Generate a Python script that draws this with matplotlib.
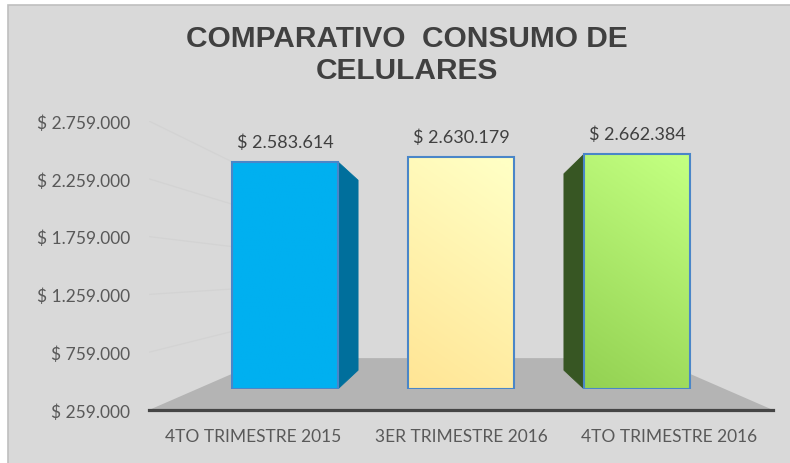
import matplotlib
matplotlib.use("Agg")
import matplotlib.pyplot as plt
import numpy as np
from matplotlib import font_manager
from matplotlib.patches import Polygon, Rectangle
from matplotlib.colors import to_rgb

# ---------------- data ----------------
categories = ["4TO TRIMESTRE 2015", "3ER TRIMESTRE 2016", "4TO TRIMESTRE 2016"]
values = [2583614, 2630179, 2662384]
y_ticks = [259000, 759000, 1259000, 1759000, 2259000, 2759000]
title = "COMPARATIVO  CONSUMO DE\nCELULARES"

# ---------------- styles ----------------
front_top = ["#00b0f0", "#ffffc4", "#c2ff80"]
front_bottom = ["#00b0f0", "#ffe595", "#93d152"]
side_colors = ["#006f9c", None, "#375623"]
edge_color = "#4a86c8"
bg = "#d9d9d9"
floor_color = "#b4b4b4"

names = {f.name for f in font_manager.fontManager.ttflist}
title_family = "Liberation Sans Narrow" if "Liberation Sans Narrow" in names else "Liberation Sans"
plt.rcParams["font.family"] = ["Lato", "DejaVu Sans"]


def money(v):
    return "$ " + f"{v:,}".replace(",", ".")


W, H = 790, 464
fig = plt.figure(figsize=(W / 100, H / 100), dpi=100, facecolor="white")
fig.add_artist(Rectangle((8 / W, -0.05), 1.0, 1.05 - 6 / H, transform=fig.transFigure,
                         facecolor=bg, edgecolor="#bfbfbf", lw=1.2, zorder=-10))

# front plane axes (value axis)
L, R, B, T = 149, 773, 411, 122
ax = fig.add_axes([L / W, 1 - B / H, (R - L) / W, (B - T) / H])
ax.patch.set_alpha(0)
xlim = (-0.5, len(categories) - 0.5)
ylim = (y_ticks[0], y_ticks[-1])
ax.set_xlim(*xlim)
ax.set_ylim(*ylim)

VP_FX, VP_FY = 0.5, 0.47           # vanishing point in axes fraction
D_FRONT, D_BACK, D_FLOOR = 0.154, 0.293, 0.382
vpx = xlim[0] + VP_FX * (xlim[1] - xlim[0])
vpy = ylim[0] + VP_FY * (ylim[1] - ylim[0])


def project(x, y, depth):
    s = 1 - depth
    return vpx + s * (x - vpx), vpy + s * (y - vpy)


def plane_rect(depth):
    aL, aB, aW, aH = ax.get_position().bounds
    fx, fy = aL + VP_FX * aW, aB + VP_FY * aH
    s = 1 - depth
    return [fx + s * (aL - fx), fy + s * (aB - fy), s * aW, s * aH]


# floor
y0 = ylim[0]
floor = [(xlim[0], y0), (xlim[1], y0), project(xlim[1], y0, D_FLOOR), project(xlim[0], y0, D_FLOOR)]
ax.add_patch(Polygon(floor, closed=True, facecolor=floor_color, edgecolor="none", zorder=0.8))

# faint side-wall gridlines
for t in y_ticks[1:]:
    bx, by = project(xlim[0], t, D_FLOOR)
    ax.plot([xlim[0], bx], [t, by], color="#d3d3d3", lw=0.9, zorder=0.5, solid_capstyle="butt")

ax.set_yticks(y_ticks)
ax.set_yticklabels([money(v) for v in y_ticks])
ax.set_xticks(range(len(categories)))
ax.set_xticklabels(categories)
ax.tick_params(axis="y", length=0, pad=13.5, labelsize=12.5, labelcolor="#595959")
ax.tick_params(axis="x", length=0, pad=13, labelsize=12.5, labelcolor="#595959")
for s in ["left", "right", "top"]:
    ax.spines[s].set_visible(False)
ax.spines["bottom"].set_color("#454545")
ax.spines["bottom"].set_linewidth(2.3)
ax.spines["bottom"].set_zorder(3)

# bars on the depth plane
axb = fig.add_axes(plane_rect(D_FRONT))
axb.set_xlim(*xlim)
axb.set_ylim(*ylim)
axb.axis("off")
axb.patch.set_alpha(0)

width = 0.6
xs = np.arange(len(categories))
heights = [v - y0 for v in values]
bars = axb.bar(xs, heights, bottom=y0, width=width, color=front_bottom, edgecolor="none", zorder=1)

ratio = (1 - D_BACK) / (1 - D_FRONT)


def back(x, y):
    return vpx + ratio * (x - vpx), vpy + ratio * (y - vpy)


for i, b in enumerate(bars):
    bx0, by0, bw, bh = b.get_x(), b.get_y(), b.get_width(), b.get_height()
    # gradient face
    n = 80
    tt = np.linspace(0, 1, n)[:, None]
    uu = np.linspace(0, 1, n)[None, :]
    p = np.clip(0.8 * tt + 0.25 * (1 - uu) - 0.05, 0, 1)
    c0, c1 = np.array(to_rgb(front_top[i])), np.array(to_rgb(front_bottom[i]))
    img = c0[None, None, :] + (c1 - c0)[None, None, :] * p[:, :, None]
    axb.imshow(img, extent=(bx0, bx0 + bw, by0, by0 + bh), origin="upper",
               aspect="auto", zorder=1.2, interpolation="bilinear")
    # side face
    if side_colors[i] is not None:
        xc = bx0 + bw / 2
        ex = bx0 + bw if xc < vpx else bx0
        pts = [(ex, by0), (ex, by0 + bh), back(ex, by0 + bh), back(ex, by0)]
        axb.add_patch(Polygon(pts, closed=True, facecolor=side_colors[i],
                              edgecolor=side_colors[i], lw=0.6, zorder=1.1))
    axb.add_patch(Rectangle((bx0, by0), bw, bh, fill=False, edgecolor=edge_color, lw=1.5, zorder=2))
    axb.annotate(money(values[i]), (bx0 + bw / 2, by0 + bh), xytext=(0, 8.5),
                 textcoords="offset points", ha="center", va="bottom",
                 fontsize=13, color="#404040", zorder=3)

axb.set_xlim(*xlim)
axb.set_ylim(*ylim)

fig.text(407 / W, 1 - 55 / H, title, ha="center", va="center", fontsize=21.5,
         fontweight="bold", family=title_family, color="#404040", linespacing=1.17)

fig.savefig("out.png", dpi=100, facecolor=fig.get_facecolor())
